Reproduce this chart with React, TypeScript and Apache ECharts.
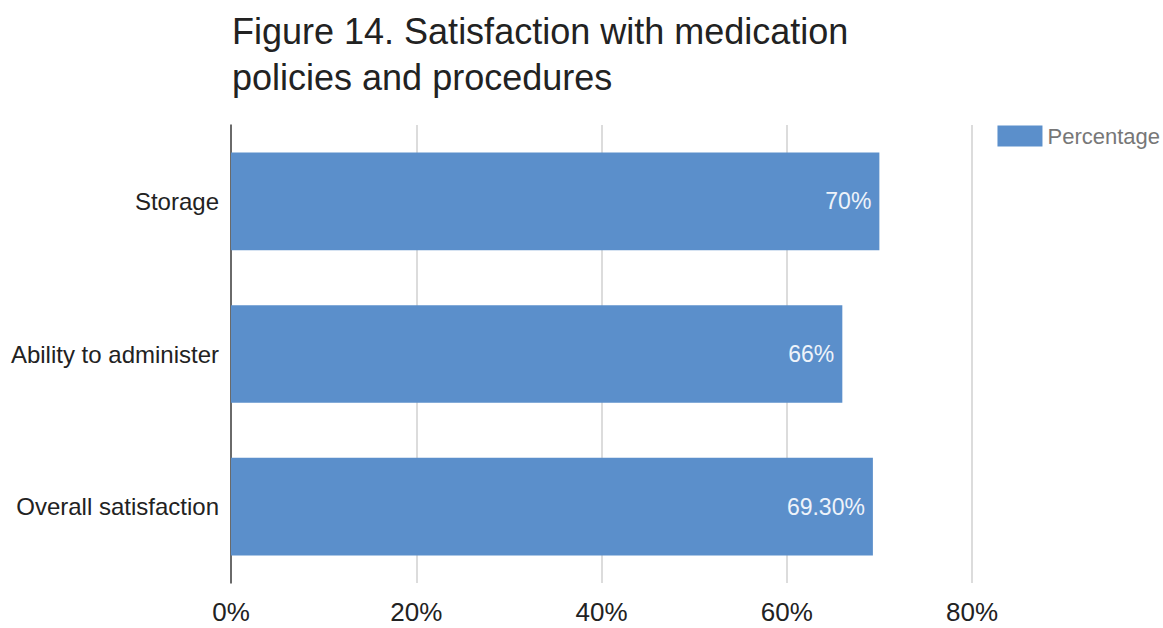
import React, { useEffect, useRef } from "react";
import * as echarts from "echarts";

const categories = ["Storage", "Ability to administer", "Overall satisfaction"];
const values = [70, 66, 69.3];
const valueLabels = ["70%", "66%", "69.30%"];
const xTicks = [0, 20, 40, 60, 80];
const titleText = "Figure 14. Satisfaction with medication\npolicies and procedures";
const seriesName = "Percentage";

export default function App() {
  const ref = useRef<HTMLDivElement>(null);
  useEffect(() => {
    if (!ref.current) return;
    const chart = echarts.init(ref.current, undefined, { renderer: "svg" });
    const font = "Liberation Sans, Arial, sans-serif";
    chart.setOption({
      animation: false,
      backgroundColor: "#ffffff",
      title: {
        text: titleText,
        left: 227,
        top: 3,
        textStyle: { fontFamily: font, fontSize: 36, fontWeight: "normal", color: "#222222", lineHeight: 46 },
      },
      legend: {
        data: [seriesName],
        right: 3,
        top: 125,
        padding: 0,
        itemWidth: 45,
        itemHeight: 21,
        itemGap: 8,
        icon: "rect",
        textStyle: { fontFamily: font, fontSize: 22, color: "#777777" },
      },
      grid: { left: 231, right: 191, top: 125, bottom: 45, containLabel: false },
      xAxis: {
        type: "value",
        min: 0,
        max: 80,
        interval: 20,
        axisLine: { show: false },
        axisTick: { show: false },
        splitLine: { show: true, lineStyle: { color: "#d0d0d0", width: 1.5 } },
        axisLabel: {
          fontFamily: font,
          fontSize: 26,
          color: "#222222",
          margin: 16,
          formatter: (v: number) => (xTicks.includes(v) ? `${v}%` : ""),
        },
      },
      yAxis: {
        type: "category",
        data: categories,
        inverse: true,
        axisLine: { show: true, lineStyle: { color: "#444444", width: 1.5 } },
        axisTick: { show: false },
        axisLabel: { fontFamily: font, fontSize: 24, color: "#222222", margin: 12 },
      },
      series: [
        {
          name: seriesName,
          type: "bar",
          data: values,
          barCategoryGap: "36%",
          itemStyle: { color: "#5b8fcb" },
          label: {
            show: true,
            position: "insideRight",
            distance: 8,
            fontFamily: font,
            fontSize: 23,
            color: "#eef3fa",
            formatter: (p: any) => valueLabels[p.dataIndex],
          },
        },
      ],
    });
    return () => chart.dispose();
  }, []);
  return <div ref={ref} style={{ position: "fixed", left: 0, top: 0, width: 1163, height: 628 }} />;
}
